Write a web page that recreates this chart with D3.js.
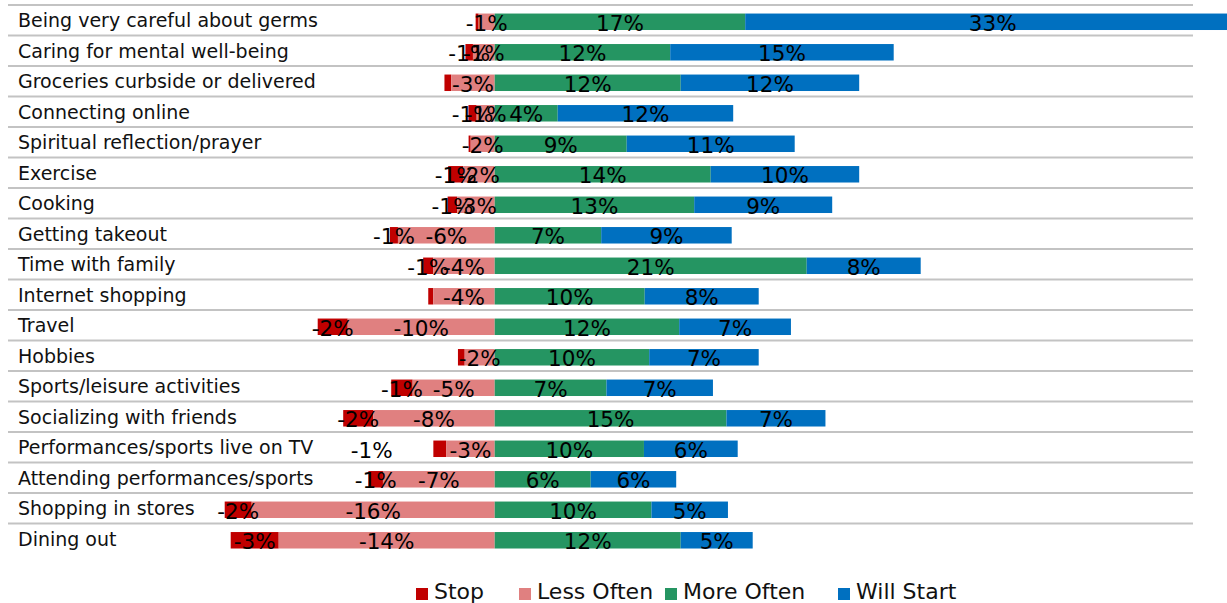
<!DOCTYPE html>
<html>
<head>
<meta charset="utf-8">
<script src="https://cdn.jsdelivr.net/npm/d3@7"></script>
<style>
    body { margin: 0; background: #fff; }
    svg { display: block; font-family: "DejaVu Sans", sans-serif; }
</style>
</head>
<body>
<svg id="chart"></svg>
<script>
const categories = [
    'Being very careful about germs', 'Caring for mental well-being', 'Groceries curbside or delivered',
    'Connecting online', 'Spiritual reflection/prayer', 'Exercise', 'Cooking', 'Getting takeout',
    'Time with family', 'Internet shopping', 'Travel', 'Hobbies', 'Sports/leisure activities',
    'Socializing with friends', 'Performances/sports live on TV', 'Attending performances/sports',
    'Shopping in stores', 'Dining out'
];
// percent values, negatives stored as magnitudes
const stopVals  = [0.2, 0.5, 0.45, 0.55, 0.14, 1.0, 0.64, 0.54, 0.67, 0.33, 2.0, 0.45, 1.43, 2.0, 0.85, 0.97, 1.8, 3.2];
const lessVals  = [1.07, 1.45, 2.9, 1.2, 1.6, 2.1, 2.5, 6.45, 4.1, 4.1, 9.8, 2.0, 5.47, 8.1, 3.24, 7.45, 16.2, 14.4];
const moreVals  = [16.7, 11.7, 12.4, 4.2, 8.8, 14.4, 13.3, 7.1, 20.8, 10.0, 12.3, 10.3, 7.45, 15.45, 9.95, 6.4, 10.45, 12.4];
const startVals = [33, 14.9, 11.9, 11.7, 11.2, 9.9, 9.2, 8.7, 7.6, 7.6, 7.45, 7.3, 7.1, 6.6, 6.25, 5.7, 5.1, 4.8];
const seriesNames = ['Stop', 'Less Often', 'More Often', 'Will Start'];
const colors = ['#c00000', '#e08080', '#259562', '#0070c0'];
// label moved by hand in the original
const labelNudge = { 'Performances/sports live on TV': -68 };

const W = 1227, H = 603;
const svg = d3.select('#chart').attr('width', W).attr('height', H);

const x = d3.scaleLinear().domain([-20, 50]).range([194.7, 1244.7]);
const y = d3.scaleBand().domain(categories).range([5, 554]);
const barH = y.bandwidth() * 0.54;
const barOff = y.bandwidth() * 0.28;

// Build segments
const segs = [];
categories.forEach((c, i) => {
    const s = stopVals[i], l = lessVals[i], m = moreVals[i], w = startVals[i];
    segs.push({ c, k: 0, x0: -(s + l), x1: -l, v: -s });
    segs.push({ c, k: 1, x0: -l, x1: 0, v: -l });
    segs.push({ c, k: 2, x0: 0, x1: m, v: m });
    segs.push({ c, k: 3, x0: m, x1: m + w, v: w });
});

// Row separators
svg.append('g').selectAll('line')
    .data(categories)
    .enter().append('line')
    .attr('x1', 8).attr('x2', 1193)
    .attr('y1', d => y(d)).attr('y2', d => y(d))
    .attr('stroke', '#c3c3c3').attr('stroke-width', 2);

// Category labels
svg.append('g').selectAll('text')
    .data(categories)
    .enter().append('text')
    .attr('x', 18)
    .attr('y', d => y(d) + 22)
    .attr('font-size', '19px').attr('fill', '#111')
    .text(d => d);

// Bars
svg.append('g').selectAll('rect')
    .data(segs)
    .enter().append('rect')
    .attr('x', d => x(d.x0))
    .attr('y', d => y(d.c) + barOff)
    .attr('width', d => x(d.x1) - x(d.x0))
    .attr('height', barH)
    .attr('fill', d => colors[d.k]);

// Value labels
const fmt = v => Math.round(Math.abs(v)) === 0 ? '' : (v < 0 ? '-' : '') + Math.round(Math.abs(v)) + '%';
svg.append('g').selectAll('text')
    .data(segs.filter(d => fmt(d.v) !== ''))
    .enter().append('text')
    .attr('x', d => (x(d.x0) + x(d.x1)) / 2 + (d.k === 0 && labelNudge[d.c] ? labelNudge[d.c] : 0))
    .attr('y', d => y(d.c) + barOff + barH / 2 + 9)
    .attr('text-anchor', 'middle')
    .attr('font-size', '21.5px').attr('fill', '#000')
    .text(d => fmt(d.v));

// Legend
const legendX = [416, 519, 665, 838];
const legend = svg.append('g').selectAll('g')
    .data(seriesNames)
    .enter().append('g')
    .attr('transform', (d, i) => `translate(${legendX[i]},0)`);
legend.append('rect')
    .attr('x', 0).attr('y', 588).attr('width', 12).attr('height', 12)
    .attr('fill', (d, i) => colors[i]);
legend.append('text')
    .attr('x', 18).attr('y', 599)
    .attr('font-size', '22px').attr('fill', '#111')
    .text(d => d);
</script>
</body>
</html>
